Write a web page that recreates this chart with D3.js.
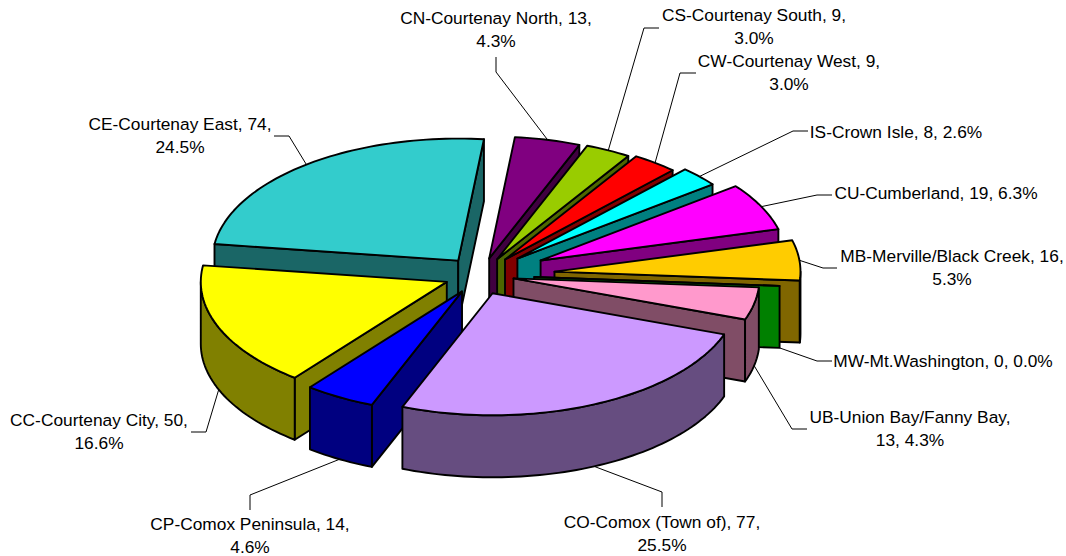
<!DOCTYPE html>
<html>
<head>
<meta charset="utf-8">
<script src="https://cdn.jsdelivr.net/npm/d3@7/dist/d3.min.js"></script>
<style>html,body{margin:0;padding:0;background:#fff}svg{display:block}</style>
</head>
<body>
<svg id="chart" width="1066" height="556"></svg>
<script>
// --- data ---
const codes = ["CN","CS","CW","IS","CU","MB","MW","UB","CO","CP","CC","CE"];
const names = ["CN-Courtenay North","CS-Courtenay South","CW-Courtenay West","IS-Crown Isle","CU-Cumberland","MB-Merville/Black Creek","MW-Mt.Washington","UB-Union Bay/Fanny Bay","CO-Comox (Town of)","CP-Comox Peninsula","CC-Courtenay City","CE-Courtenay East"];
const counts = [13,9,9,8,19,16,0,13,77,14,50,74];
const percents = ["4.3%","3.0%","3.0%","2.6%","6.3%","5.3%","0.0%","4.3%","25.5%","4.6%","16.6%","24.5%"];
// per-point explosion, as in the spreadsheet's pie options
const explosion = [0.14,0.145,0.16,0.2,0.27,0.30,0.217,0.135,0.157,0.155,0.15,0.15];
const explosionTilt = [0,0,0,0,0,0,0,0,7,0,0,0];
// --- styles ---
const topColors  = ["#800080","#99CC00","#FF0000","#00FFFF","#FF00FF","#FFCC00","#00FF00","#FF99CC","#CC99FF","#0000FF","#FFFF00","#33CCCC"];
const wallColors = ["#400040","#4D6600","#800000","#008080","#800080","#806600","#008000","#804D66","#664D80","#000080","#808000","#1A6666"];
// --- label layout ---
const labelLines = [
  ["CN-Courtenay North, 13,","4.3%"],["CS-Courtenay South, 9,","3.0%"],["CW-Courtenay West, 9,","3.0%"],
  ["IS-Crown Isle, 8, 2.6%"],["CU-Cumberland, 19, 6.3%"],["MB-Merville/Black Creek, 16,","5.3%"],
  ["MW-Mt.Washington, 0, 0.0%"],["UB-Union Bay/Fanny Bay,","13, 4.3%"],["CO-Comox (Town of), 77,","25.5%"],
  ["CP-Comox Peninsula, 14,","4.6%"],["CC-Courtenay City, 50,","16.6%"],["CE-Courtenay East, 74,","24.5%"]];
const labelCenters = [[496,24],[754,21],[789,67],[896,138],[936,199],[952,262],[943,367],[910,423],[662,528],[250,530],[99,426],[180,130]];
const leaderBends = [
  [[496,72],[496,57]],[[644,28],[659,28]],[[680,73],[696,73]],[[793,131],[808,131]],
  [[817,195],[832,195]],[[823,268],[837,268]],[[817,361],[832,361]],[[792,429],[807,429]],
  [[662,492],[662,507]],[[250,495],[250,510]],[[206,432],[191,432]],[[289,136],[274,136]]];

const cx = 481, cy = 275, rx = 246, ry = 122, depth = 62;
const startDeg = 6;
const rad = Math.PI / 180;

const sx = d3.scaleLinear().domain([-1,1]).range([cx-rx,cx+rx]);
const sy = d3.scaleLinear().domain([-1,1]).range([cy+ry,cy-ry]);

const arcs = d3.pie().sort(null).value(d=>d)
  .startAngle(startDeg*rad).endAngle((startDeg+360)*rad)(counts);

const svg = d3.select("#chart");
const line = d3.line();

function geom(i){
  const a = arcs[i], mid = (a.startAngle+a.endAngle)/2, e = explosion[i];
  const dir = mid + explosionTilt[i]*rad;
  const ox = e*Math.sin(dir), oy = e*Math.cos(dir);
  const pt = (ang,dz=0)=>[sx(ox+Math.sin(ang)), sy(oy+Math.cos(ang))+dz];
  const apex = (dz=0)=>[sx(ox), sy(oy)+dz];
  return {a,mid,pt,apex};
}
function samples(a0,a1){
  const n = Math.max(2,Math.ceil((a1-a0)/(rad*1.5)));
  return d3.range(n+1).map(k=>a0+(a1-a0)*k/n);
}
function drawSlice(g,i){
  const {a,pt,apex} = geom(i);
  const s0=a.startAngle, s1=a.endAngle;
  const G = g.append("g").attr("data-slice",codes[i])
    .attr("stroke","#000").attr("stroke-width",1.9).attr("stroke-linejoin","round");
  const wall = wallColors[i], top = topColors[i];
  const radial = ang=>line([apex(),pt(ang),pt(ang,depth),apex(depth)])+"Z";
  if(Math.sin(s0)<0) G.append("path").attr("d",radial(s0)).attr("fill",wall);
  if(Math.sin(s1)>0) G.append("path").attr("d",radial(s1)).attr("fill",wall);
  // outer rim: only the part on the front half of the ellipse
  const f0=Math.max(s0,90*rad), f1=Math.min(s1,270*rad);
  if(f1>f0){
    const ang=samples(f0,f1);
    const pts=ang.map(t=>pt(t)).concat(ang.slice().reverse().map(t=>pt(t,depth)));
    G.append("path").attr("d",line(pts)+"Z").attr("fill",wall);
  }
  const face=[apex()].concat(samples(s0,s1).map(t=>pt(t)));
  G.append("path").attr("d",line(face)+"Z").attr("fill",top);
}

// leaders sit behind the slices
const leaders = svg.append("g").attr("fill","none").attr("stroke","#000").attr("stroke-width",1);
counts.forEach((v,i)=>{
  const {mid,pt} = geom(i);
  const start = pt(mid, Math.cos(mid)<0 ? depth : 0);
  leaders.append("path").attr("d",line([start,...leaderBends[i]]));
});

// back-to-front painting order
const pieG = svg.append("g");
const order = [11,0,1,2,3,4,5,6,7,10,9,8];
order.forEach(i=>drawSlice(pieG,i));

// labels
const lab = svg.append("g").attr("font-family","'Liberation Sans',Arial,sans-serif")
  .attr("font-size",17.33).attr("fill","#000").attr("text-anchor","middle");
labelLines.forEach((ls,i)=>{
  ls.forEach((t,j)=>{
    lab.append("text").attr("x",labelCenters[i][0]).attr("y",labelCenters[i][1]+j*22.5).text(t);
  });
});
</script>
</body>
</html>
